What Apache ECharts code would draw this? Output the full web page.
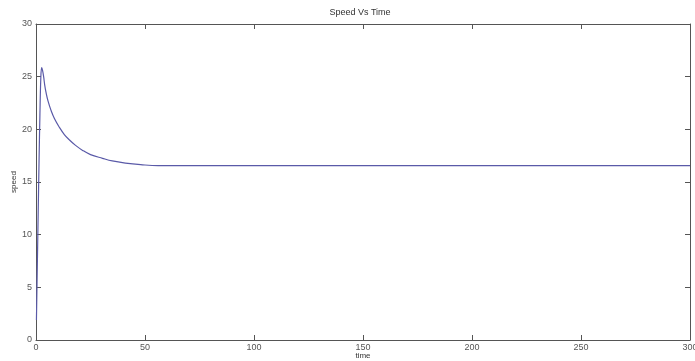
<!DOCTYPE html>
<html>
<head>
<meta charset="utf-8">
<script src="https://cdn.jsdelivr.net/npm/echarts@6/dist/echarts.min.js"></script>
<style>
  html, body { margin: 0; padding: 0; background: #fff; }
  #chart { width: 695px; height: 361px; }
</style>
</head>
<body>
<div id="chart"></div>
<script>
// time (s) and speed
var timeData = [0.2, 0.6, 1.0, 1.4, 1.8, 2.2, 2.6, 3.0, 3.5, 4.0, 4.6, 5.5, 6.9, 8.5, 10.7, 13, 15.3, 18, 21.4, 25, 30.5, 35, 41, 48, 56, 100, 150, 200, 250, 300]
var speedData = [1.9, 7, 12, 17, 21.4, 24.8, 25.85, 25.6, 25.0, 24.2, 23.5, 22.7, 21.8, 21.0, 20.2, 19.5, 19.0, 18.5, 18.0, 17.6, 17.25, 17.0, 16.8, 16.65, 16.55, 16.55, 16.55, 16.55, 16.55, 16.55]
var xTicks = [0, 50, 100, 150, 200, 250, 300]
var yTicks = [0, 5, 10, 15, 20, 25, 30]

var points = timeData.map(function (t, i) { return [t, speedData[i]] })
var axisColor = '#555'
var font = 'Liberation Sans'

var myChart = echarts.init(document.getElementById('chart'))
var option = {
  animation: false,
  title: {
    text: 'Speed Vs Time',
    left: 355,
    top: 3,
    textAlign: 'center',
    textStyle: { fontSize: 9, fontWeight: 'normal', color: '#333', fontFamily: font }
  },
  grid: { left: 36, right: 5, top: 24, bottom: 21, containLabel: false, outerBoundsMode: 'none' },
  xAxis: [{
    type: 'value',
    min: xTicks[0],
    max: xTicks[xTicks.length - 1],
    interval: 50,
    name: 'time',
    nameLocation: 'middle',
    nameGap: 16,
    nameMoveOverlap: false,
    nameTextStyle: { fontSize: 8, color: '#333', fontFamily: font, verticalAlign: 'middle' },
    axisLine: { onZero: false, lineStyle: { color: axisColor, width: 1 } },
    axisTick: { inside: true, length: 5, lineStyle: { color: axisColor } },
    axisLabel: { fontSize: 9, color: '#555', margin: 3, fontFamily: font },
    splitLine: { show: false }
  }, {
    type: 'value',
    position: 'top',
    min: xTicks[0],
    max: xTicks[xTicks.length - 1],
    interval: 50,
    axisLine: { show: true, onZero: false, lineStyle: { color: axisColor, width: 1 } },
    axisTick: { show: true, inside: true, length: 5, lineStyle: { color: axisColor } },
    axisLabel: { show: false },
    splitLine: { show: false }
  }],
  yAxis: [{
    type: 'value',
    min: yTicks[0],
    max: yTicks[yTicks.length - 1],
    interval: 5,
    name: 'speed',
    nameLocation: 'middle',
    nameGap: 22,
    nameMoveOverlap: false,
    nameTextStyle: { fontSize: 8, color: '#333', fontFamily: font, verticalAlign: 'middle' },
    axisLine: { show: true, onZero: false, lineStyle: { color: axisColor, width: 1 } },
    axisTick: { show: true, inside: true, length: 5, lineStyle: { color: axisColor } },
    axisLabel: { fontSize: 9, color: '#555', margin: 4, fontFamily: font },
    splitLine: { show: false }
  }, {
    type: 'value',
    position: 'right',
    min: yTicks[0],
    max: yTicks[yTicks.length - 1],
    interval: 5,
    axisLine: { show: true, onZero: false, lineStyle: { color: axisColor, width: 1 } },
    axisTick: { show: true, inside: true, length: 5, lineStyle: { color: axisColor } },
    axisLabel: { show: false },
    splitLine: { show: false }
  }],
  series: [{
    name: 'speed',
    type: 'line',
    data: points,
    smooth: 0.4,
    symbol: 'none',
    lineStyle: { color: '#5a5aa8', width: 1.2 }
  }]
}
myChart.setOption(option)
</script>
</body>
</html>
